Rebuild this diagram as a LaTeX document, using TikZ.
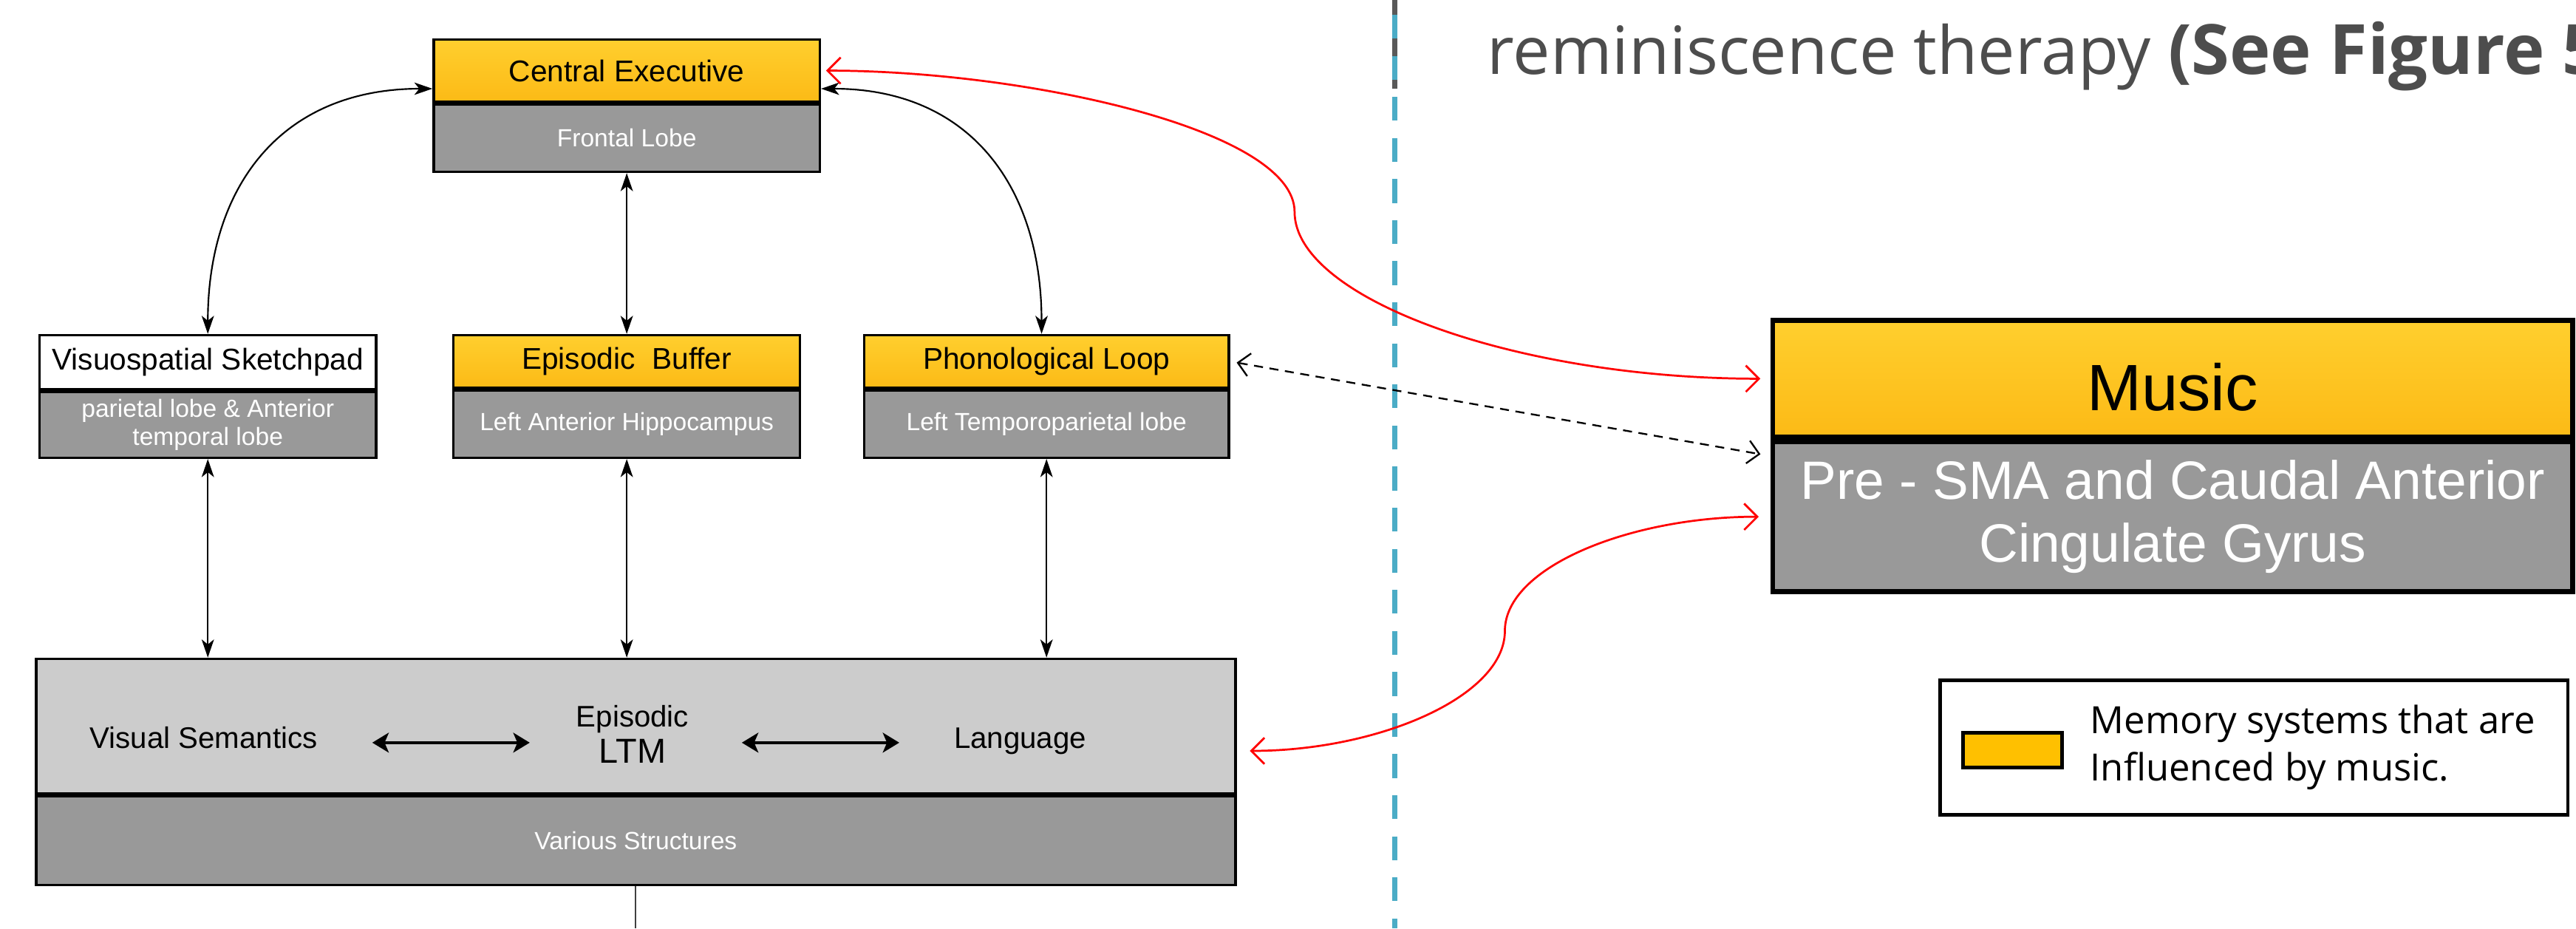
\documentclass[tikz,border=0pt]{standalone}
\usepackage{fontspec}
\setmainfont{Liberation Sans}
\newfontfamily\notefont{Open Sans}
\usepackage{xcolor}
\usepackage{tikz}
\usetikzlibrary{calc, arrows.meta, positioning}

\definecolor{memtop}{RGB}{255,207,46}
\definecolor{membot}{RGB}{252,186,22}
\definecolor{memfill}{RGB}{255,192,0}
\definecolor{lobegray}{RGB}{153,153,153}
\definecolor{ltmgray}{RGB}{204,204,204}
\definecolor{divblue}{RGB}{75,172,198}
\definecolor{divgray}{RGB}{89,89,89}
\definecolor{titlegray}{RGB}{77,77,77}

\begin{document}
\begin{tikzpicture}[
    >=Stealth,
    link_arrow/.style={draw=black, line width=0.55pt, {Stealth[length=2.2mm, width=1.5mm, inset=0.6mm]}-{Stealth[length=2.2mm, width=1.5mm, inset=0.6mm]}},
    inner_arrow/.style={draw=black, line width=1.1pt, {Stealth[length=2mm, width=2.4mm, inset=0.5mm]}-{Stealth[length=2mm, width=2.4mm, inset=0.5mm]}},
    music_arrow/.style={draw=red, line width=0.7pt, {Straight Barb[length=1.6mm, width=3.2mm]}-{Straight Barb[length=1.6mm, width=3.2mm]}},
    cross_arrow/.style={draw=black, line width=0.6pt, dash pattern=on 1.1mm off 0.8mm, {Straight Barb[length=1.4mm, width=2.8mm]}-{Straight Barb[length=1.4mm, width=2.8mm]}},
    % Memory system boxes (title part)
    mem_node/.style={rectangle, draw=black, line width=0.9pt, top color=memtop, bottom color=membot, inner sep=0pt, align=center, font=\fontsize{10.4}{12}\selectfont},
    plain_node/.style={rectangle, draw=black, line width=0.9pt, fill=white, inner sep=0pt, align=center, font=\fontsize{10.4}{12}\selectfont},
    % Brain region boxes (lower part)
    lobe_node/.style={rectangle, draw=black, line width=0.9pt, fill=lobegray, text=white, inner sep=0pt, align=center, font=\fontsize{8.6}{9.7}\selectfont},
    ltm_node/.style={rectangle, draw=black, line width=0.9pt, fill=ltmgray, inner sep=0pt},
    label_node/.style={inner sep=0pt, align=center, font=\fontsize{10.3}{12.5}\selectfont}
]
    \useasboundingbox (0, 0) rectangle (31.36, 11.30);
    \clip (0, 0) rectangle (31.36, 11.30);

    % =========================================================================
    % CENTRAL EXECUTIVE
    % =========================================================================
    \node [mem_node, minimum width=4.70cm, minimum height=0.76cm] (ce) at (7.63, 10.44) {Central Executive};
    \node [lobe_node, minimum width=4.70cm, minimum height=0.82cm, below=0pt of ce] (ce_lobe) {Frontal Lobe};

    % =========================================================================
    % SLAVE SYSTEMS
    % =========================================================================
    \node [plain_node, minimum width=4.10cm, minimum height=0.66cm] (vs) at (2.53, 6.89) {Visuospatial Sketchpad};
    \node [lobe_node, minimum width=4.10cm, minimum height=0.80cm, below=0pt of vs] (vs_lobe) {parietal lobe \& Anterior\\temporal lobe};

    \node [mem_node, minimum width=4.22cm, minimum height=0.64cm] (eb) at (7.63, 6.90) {Episodic\ \ Buffer};
    \node [lobe_node, minimum width=4.22cm, minimum height=0.82cm, below=0pt of eb] (eb_lobe) {Left Anterior Hippocampus};

    \node [mem_node, minimum width=4.44cm, minimum height=0.64cm] (pl) at (12.74, 6.90) {Phonological Loop};
    \node [lobe_node, minimum width=4.44cm, minimum height=0.82cm, below=0pt of pl] (pl_lobe) {Left Temporoparietal lobe};

    \draw [link_arrow] ([yshift=-0.22cm]ce.west) to[out=180, in=90, looseness=1.15] (vs.north);
    \draw [link_arrow] (ce_lobe.south) -- (eb.north);
    \draw [link_arrow] ([yshift=-0.22cm]ce.east) to[out=0, in=90, looseness=1.15] ([xshift=-0.06cm]pl.north);

    % =========================================================================
    % LONG TERM MEMORY
    % =========================================================================
    \node [ltm_node, minimum width=14.60cm, minimum height=1.64cm] (ltm) at (7.74, 2.46) {};
    \node [lobe_node, minimum width=14.60cm, minimum height=1.08cm, below=0pt of ltm] (ltm_base) {Various Structures};

    \node [label_node] (vsem) at (2.48, 2.32) {Visual Semantics};
    \node [label_node] (epi) at (7.70, 2.36) {Episodic\\{\fontsize{12}{12}\selectfont LTM}};
    \node [label_node] (lang) at (12.42, 2.28) {Language};

    \draw [inner_arrow, shorten <=0.66cm, shorten >=0.56cm] ([yshift=-0.06cm]vsem.east) -- ([yshift=-0.06cm]vsem.east -| epi.west);
    \draw [inner_arrow, shorten <=0.64cm, shorten >=0.66cm] ([yshift=-0.06cm]vsem.east -| epi.east) -- ([yshift=-0.06cm]vsem.east -| lang.west);

    \draw [link_arrow] (vs_lobe.south) -- (vs_lobe.south |- ltm.north);
    \draw [link_arrow] (eb_lobe.south) -- (eb_lobe.south |- ltm.north);
    \draw [link_arrow] (pl_lobe.south) -- (pl_lobe.south |- ltm.north);

    \coordinate (exit) at (7.70, 0);
    \draw [draw=black!75, line width=0.5pt] (ltm_base.south) -- (ltm_base.south |- exit);

    % =========================================================================
    % DIVIDER AND HEADING
    % =========================================================================
    \coordinate (div_top) at (16.98, 11.30);
    \coordinate (div_bot) at (16.98, 0);
    \draw [draw=divgray, line width=2pt] (div_top) -- ++(0, -1.08);
    \draw [draw=divblue, line width=2pt, dash pattern=on 0.29cm off 0.21cm, dash phase=0.32cm] (div_top) -- (div_bot);

    \node [anchor=base west, inner sep=0pt, text=titlegray, font=\notefont\fontsize{23}{28}\selectfont] (title) at (18.10, 10.40) {reminiscence therapy {\fontsize{24}{28}\selectfont\bfseries (See Figure 5}};

    % =========================================================================
    % MUSIC
    % =========================================================================
    \node [mem_node, line width=1.7pt, minimum width=9.74cm, minimum height=1.42cm, font=\fontsize{22.7}{26}\selectfont] (music) at (26.45, 6.69) {};
    \node [font=\fontsize{22.7}{26}\selectfont, inner sep=0pt] (music_text) at ([yshift=-0.1cm]music.center) {Music};
    \node [lobe_node, line width=1.7pt, minimum width=9.74cm, minimum height=1.82cm, font=\fontsize{18.7}{21.6}\selectfont, below=0pt of music] (music_area) {Pre - SMA and Caudal Anterior\\Cingulate Gyrus};

    \coordinate (bend_a) at (15.76, 8.72);
    \coordinate (bend_b) at (18.32, 3.62);
    \draw [music_arrow, shorten <=0.06cm, shorten >=0.12cm] (ce.east) .. controls +(2.5, 0) and +(0, 1.0) .. (bend_a) .. controls +(0, -1.05) and +(-3.1, 0) .. (music.west);
    \draw [music_arrow, shorten <=0.16cm, shorten >=0.14cm] ([yshift=-0.3cm]ltm.east) .. controls +(1.72, 0) and +(0, -0.80) .. (bend_b) .. controls +(0, 0.78) and +(-1.70, 0) .. (music_area.west);
    \draw [cross_arrow, shorten <=0.08cm, shorten >=0.12cm] (pl.east) -- ([yshift=-0.2cm]music_area.north west);

    % =========================================================================
    % LEGEND
    % =========================================================================
    \node [rectangle, draw=black, line width=1.2pt, fill=white, minimum width=7.64cm, minimum height=1.64cm] (legend) at (27.44, 2.20) {};
    \node [rectangle, draw=black, line width=1.3pt, fill=memfill, minimum width=1.20cm, minimum height=0.42cm, inner sep=0pt] (swatch) at (24.50, 2.17) {};
    \node [anchor=west, inner sep=0pt, align=left, font=\notefont\fontsize{13}{16.5}\selectfont] (legend_text) at (25.44, 2.20) {Memory systems that are\\Influenced by music.};
\end{tikzpicture}
\end{document}
